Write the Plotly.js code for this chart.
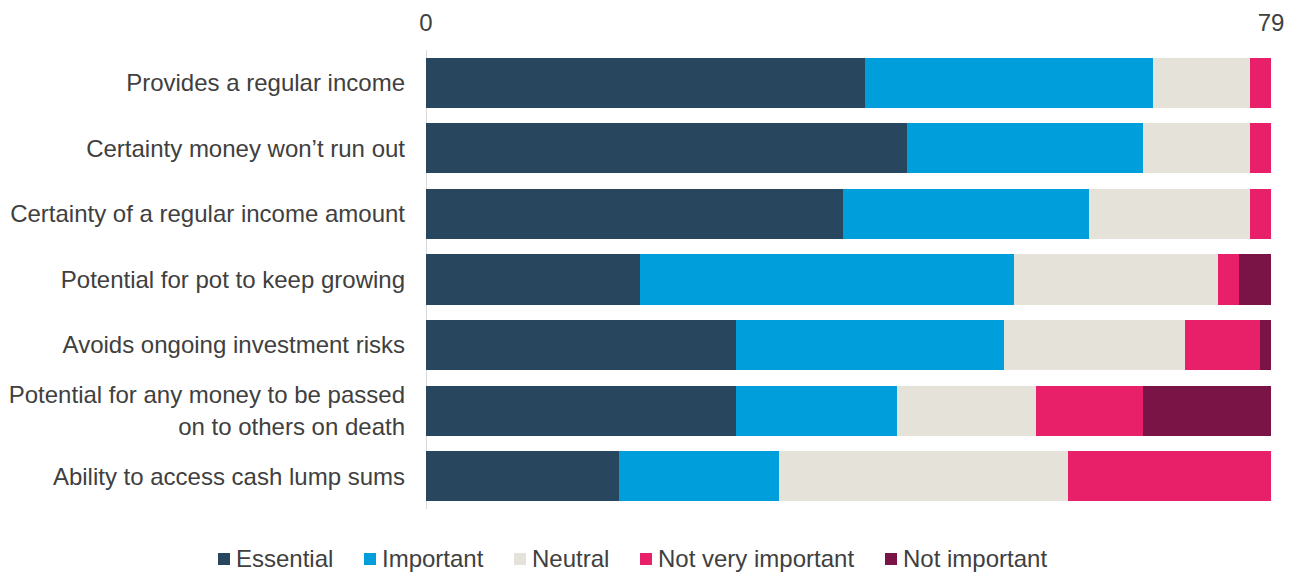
<!DOCTYPE html>
<html>
<head>
<meta charset="utf-8">
<script src="https://cdn.plot.ly/plotly-3.0.1.min.js"></script>
<style>html,body{margin:0;padding:0;background:#fff;}#chart{width:1300px;height:574px;}</style>
</head>
<body>
<div id="chart"></div>
<script>
const categories = [
  "Provides a regular income",
  "Certainty money won\u2019t run out",
  "Certainty of a regular income amount",
  "Potential for pot to keep growing",
  "Avoids ongoing investment risks",
  "Potential for any money to be passed<br>on to others on death",
  "Ability to access cash lump sums"
];
const seriesNames = ["Essential", "Important", "Neutral", "Not very important", "Not important"];
const essential = [41, 45, 39, 20, 29, 29, 18];
const important = [27, 22, 23, 35, 25, 15, 15];
const neutral = [9, 10, 15, 19, 17, 13, 27];
const notVeryImportant = [2, 2, 2, 2, 7, 10, 19];
const notImportant = [0, 0, 0, 3, 1, 12, 0];
const xTicks = [0, 79];

const colors = ["#29465f", "#009fdb", "#e5e3d9", "#e8206a", "#7a1446"];
const values = [essential, important, neutral, notVeryImportant, notImportant];

const W = 1300, H = 574, M = {l: 426, r: 29, t: 50, b: 65};
const pw = W - M.l - M.r, ph = H - M.t - M.b;
const px2x = p => (p - M.l) / pw;
const py2y = p => (H - M.b - p) / ph;

const traces = seriesNames.map((n, i) => ({
  type: "bar", orientation: "h", name: n,
  y: categories, x: values[i],
  marker: {color: colors[i]},
  hoverinfo: "x+name", showlegend: false
}));

// legend drawn manually
const legendSquareLeft = [218, 364, 514, 640, 885];
const shapes = [], annotations = [];
seriesNames.forEach((n, i) => {
  const l = legendSquareLeft[i];
  shapes.push({type: "rect", xref: "paper", yref: "paper",
    x0: px2x(l), x1: px2x(l + 12), y0: py2y(565), y1: py2y(553),
    fillcolor: colors[i], line: {width: 0}});
  annotations.push({xref: "paper", yref: "paper", x: px2x(l + 16), y: py2y(558.5),
    xanchor: "left", yanchor: "middle", showarrow: false, text: n,
    font: {size: 24, color: "#404040"}});
});

const layout = {
  width: W, height: H,
  margin: M,
  barmode: "stack",
  bargap: 0.237,
  paper_bgcolor: "#fff", plot_bgcolor: "#fff",
  font: {family: "Liberation Sans, Arial, sans-serif", size: 24, color: "#404040"},
  showlegend: false,
  xaxis: {
    range: [0, 79], side: "top", tickvals: xTicks, ticktext: xTicks.map(String),
    showgrid: true, gridcolor: "#d9d9d9", griddash: "dash", gridwidth: 1,
    zeroline: true, zerolinecolor: "#d9d9d9", zerolinewidth: 1,
    showline: false, ticks: "", ticklabelstandoff: 13, fixedrange: true
  },
  yaxis: {
    autorange: "reversed", showgrid: false, zeroline: false, showline: false,
    ticks: "", ticklabelstandoff: 20, fixedrange: true
  },
  shapes: shapes,
  annotations: annotations
};

Plotly.newPlot("chart", traces, layout, {displayModeBar: false, staticPlot: true});
</script>
</body>
</html>
